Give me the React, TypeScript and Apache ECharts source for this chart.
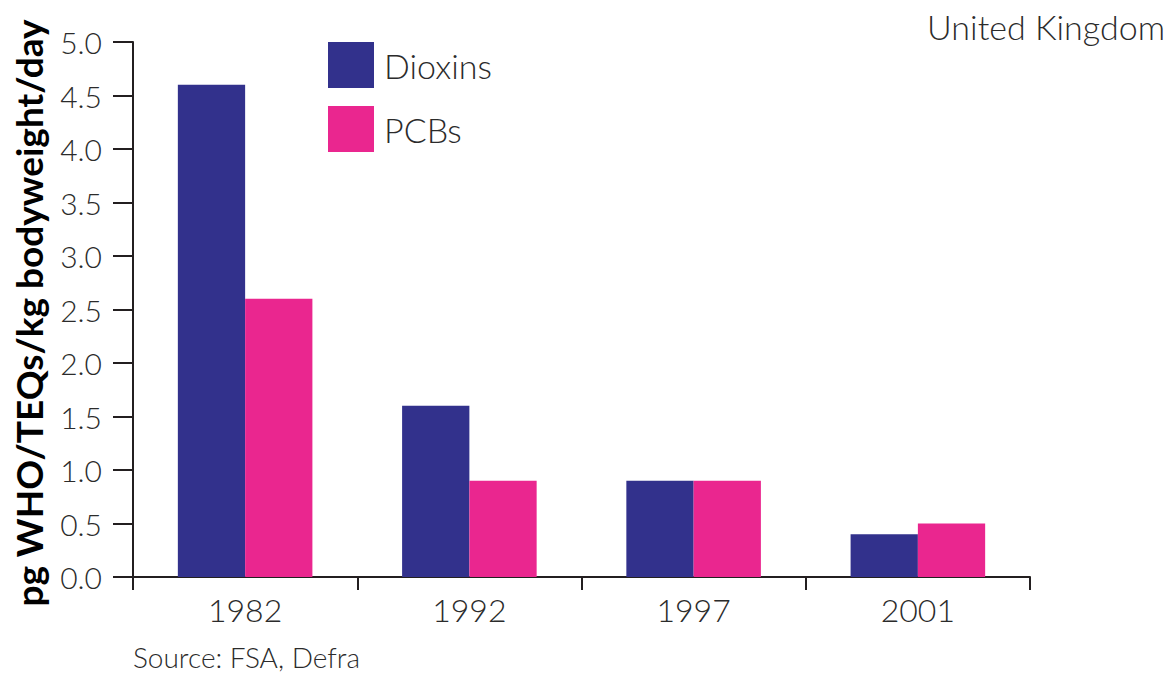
import React, { useEffect, useRef } from "react";
import * as echarts from "echarts";

const categories = ["1982", "1992", "1997", "2001"];
const dioxins = [4.6, 1.6, 0.9, 0.4];
const pcbs = [2.6, 0.9, 0.9, 0.5];
const seriesNames = ["Dioxins", "PCBs"];

const FONT = "Lato, 'Open Sans', sans-serif";
const TEXT = "#2b2b2b";
const AXIS = "#231f20";

export default function App() {
  const ref = useRef<HTMLDivElement>(null);
  useEffect(() => {
    if (!ref.current) return;
    const chart = echarts.init(ref.current, null, { renderer: "svg" });
    chart.setOption({
      animation: false,
      backgroundColor: "#ffffff",
      grid: { left: 133, right: 145, top: 42, bottom: 99 },
      legend: {
        orient: "vertical",
        left: 328,
        top: 42,
        padding: 0,
        itemWidth: 46,
        itemHeight: 46,
        itemGap: 18,
        icon: "rect",
        data: seriesNames,
        textStyle: { fontFamily: FONT, fontSize: 34, fontWeight: 300, color: TEXT, padding: [6, 0, 0, 5] },
      },
      xAxis: {
        type: "category",
        data: categories,
        boundaryGap: true,
        axisLine: { lineStyle: { color: AXIS, width: 2 } },
        axisTick: { show: true, length: 13, lineStyle: { color: AXIS, width: 2 } },
        axisLabel: { fontFamily: FONT, fontSize: 32, fontWeight: 300, color: TEXT, margin: 16 },
        splitLine: { show: false },
      },
      yAxis: {
        type: "value",
        min: 0,
        max: 5,
        interval: 0.5,
        axisLine: { show: true, lineStyle: { color: AXIS, width: 2 } },
        axisTick: { show: true, length: 20, lineStyle: { color: AXIS, width: 2 } },
        axisLabel: {
          fontFamily: FONT,
          fontSize: 30,
          fontWeight: 300,
          color: TEXT,
          margin: 31,
          formatter: (v: number) => v.toFixed(1),
        },
        splitLine: { show: false },
      },
      series: [
        {
          name: seriesNames[0],
          type: "bar",
          data: dioxins,
          itemStyle: { color: "#32318c" },
          barGap: "0%",
          barCategoryGap: "40%",
        },
        {
          name: seriesNames[1],
          type: "bar",
          data: pcbs,
          itemStyle: { color: "#ea268f" },
          barGap: "0%",
          barCategoryGap: "40%",
        },
      ],
      graphic: [
        {
          type: "text",
          x: 28,
          y: 313,
          rotation: Math.PI / 2,
          style: {
            text: "pg WHO/TEQs/kg bodyweight/day",
            fontFamily: FONT,
            fontSize: 37,
            fontWeight: "bold",
            fill: "#000000",
            align: "center",
            verticalAlign: "middle",
          },
        },
        {
          type: "text",
          right: 10,
          top: 9,
          style: {
            text: "United Kingdom",
            fontFamily: FONT,
            fontSize: 34,
            fontWeight: 300,
            fill: TEXT,
          },
        },
        {
          type: "text",
          left: 133,
          top: 643,
          style: {
            text: "Source: FSA, Defra",
            fontFamily: FONT,
            fontSize: 28,
            fontWeight: 300,
            fill: TEXT,
          },
        },
      ],
    });
    return () => chart.dispose();
  }, []);
  return <div ref={ref} style={{ width: 1175, height: 676, position: "absolute", left: 0, top: 0 }} />;
}
